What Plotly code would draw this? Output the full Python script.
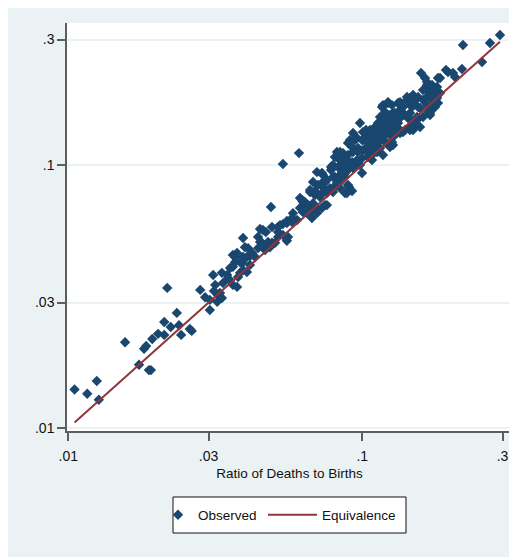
import plotly.graph_objects as go

# Ratio of deaths to births (x) and observed ratio (y)
ratio_deaths_births = [
    0.0105, 0.0116, 0.0125, 0.0127, 0.0156, 0.0174, 0.0181, 0.0184, 0.0188, 0.0191,
    0.0193, 0.0202, 0.0212, 0.0212, 0.0217, 0.0223, 0.0234, 0.0238, 0.0242, 0.0259,
    0.0263, 0.0281, 0.0292, 0.0303, 0.0311, 0.0316, 0.0321, 0.0323, 0.0333, 0.0333,
    0.0336, 0.0347, 0.0355, 0.0363, 0.0369, 0.0375, 0.0378, 0.0390, 0.0393, 0.0405,
    0.0415, 0.0303, 0.0328, 0.0355, 0.0384, 0.0363, 0.0349, 0.0313, 0.0393, 0.0399,
    0.0409, 0.0422, 0.0442, 0.0449, 0.0467, 0.0478, 0.0493, 0.0393, 0.0390, 0.0369,
    0.0363, 0.0384, 0.0405, 0.0415, 0.0432, 0.0442, 0.0456, 0.0467, 0.0485, 0.0505,
    0.0517, 0.0537, 0.0559, 0.0554, 0.0449, 0.0459, 0.0470, 0.0493, 0.0517, 0.0525,
    0.0537, 0.0554, 0.0577, 0.0517, 0.0489, 0.0537, 0.0609, 0.0375, 0.0581, 0.0600,
    0.0577, 0.0554, 0.0614, 0.0628, 0.0648, 0.0614, 0.0628, 0.0648, 0.0674, 0.0701,
    0.0747, 0.0674, 0.0701, 0.0729, 0.0758, 0.0624, 0.0638, 0.0654, 0.0680, 0.0664,
    0.0690, 0.0718, 0.0758, 0.0795, 0.0680, 0.0707, 0.0758, 0.0807, 0.0827, 0.0873,
    0.0701, 0.0729, 0.0735, 0.0789, 0.0795, 0.0820, 0.0827, 0.0840, 0.0860, 0.0894,
    0.0860, 0.0887, 0.0901, 0.0887, 0.0923, 0.0735, 0.0735, 0.0776, 0.0807, 0.0840,
    0.0894, 0.0783, 0.0827, 0.0873, 0.0807, 0.0795, 0.0840, 0.0860, 0.0887, 0.0908,
    0.0853, 0.0690, 0.0729, 0.0795, 0.0840, 0.0873, 0.0747, 0.0820, 0.0664, 0.0783,
    0.0827, 0.0860, 0.0894, 0.0930, 0.0982, 0.0998, 0.0840, 0.0853, 0.0908, 0.0908,
    0.0923, 0.0894, 0.0930, 0.0967, 0.1005, 0.1045, 0.0959, 0.0998, 0.1079, 0.1122,
    0.1149, 0.0982, 0.1005, 0.1131, 0.1167, 0.1214, 0.1262, 0.1323, 0.0930, 0.0959,
    0.0998, 0.1037, 0.1088, 0.1062, 0.1088, 0.1131, 0.1195, 0.1272, 0.1344, 0.1397,
    0.1223, 0.1323, 0.1419, 0.1167, 0.1195, 0.1262, 0.1365, 0.1397, 0.1430, 0.0945,
    0.1037, 0.1122, 0.1167, 0.1214, 0.1262, 0.1312, 0.0967, 0.1021, 0.1062, 0.1105,
    0.1214, 0.1272, 0.0840, 0.0923, 0.0959, 0.1045, 0.1079, 0.1176, 0.1242, 0.1037,
    0.1062, 0.1105, 0.1131, 0.1262, 0.1029, 0.1088, 0.1176, 0.1149, 0.1195, 0.1167,
    0.1223, 0.1272, 0.1242, 0.1292, 0.1375, 0.1419, 0.1344, 0.1272, 0.1535, 0.1511,
    0.1453, 0.1476, 0.1453, 0.1419, 0.1511, 0.1548, 0.1476, 0.1548, 0.1609, 0.1660,
    0.1674, 0.1741, 0.1674, 0.1344, 0.1375, 0.1488, 0.1548, 0.1572, 0.1488, 0.1453,
    0.1660, 0.1700, 0.1741, 0.1796, 0.1838, 0.1809, 0.1741, 0.1700, 0.1768, 0.1584,
    0.1634, 0.1660, 0.1727, 0.1768, 0.1796, 0.1727, 0.1768, 0.1809, 0.1926, 0.2035,
    0.2067, 0.2183, 0.2200, 0.2554, 0.2718, 0.2940, 0.1204, 0.1242, 0.1195, 0.1272,
    0.1323, 0.1375, 0.1453, 0.1535, 0.1609, 0.1700, 0.1453, 0.1488, 0.1223, 0.1262,
    0.1176, 0.1195, 0.1272, 0.1323, 0.1488, 0.1609, 0.1430, 0.1488, 0.1572, 0.1660,
    0.1741, 0.1796, 0.1957, 0.1838, 0.1713,
]
observed = [
    0.0140, 0.0135, 0.0151, 0.0128, 0.0212, 0.0174, 0.0200, 0.0205, 0.0166, 0.0166,
    0.0218, 0.0228, 0.0226, 0.0253, 0.0341, 0.0242, 0.0274, 0.0246, 0.0226, 0.0238,
    0.0234, 0.0335, 0.0314, 0.0281, 0.0382, 0.0350, 0.0302, 0.0320, 0.0312, 0.0389,
    0.0356, 0.0382, 0.0365, 0.0410, 0.0447, 0.0344, 0.0375, 0.0424, 0.0399, 0.0447,
    0.0417, 0.0307, 0.0326, 0.0406, 0.0389, 0.0350, 0.0371, 0.0332, 0.0528, 0.0487,
    0.0483, 0.0463, 0.0533, 0.0510, 0.0496, 0.0510, 0.0506, 0.0447, 0.0427, 0.0427,
    0.0455, 0.0427, 0.0392, 0.0451, 0.0447, 0.0483, 0.0506, 0.0475, 0.0487, 0.0506,
    0.0533, 0.0542, 0.0533, 0.0515, 0.0571, 0.0566, 0.0556, 0.0581, 0.0581, 0.0591,
    0.0596, 0.0613, 0.0629, 0.0556, 0.0692, 0.1009, 0.1110, 0.0463, 0.0656, 0.0618,
    0.0607, 0.0602, 0.0749, 0.0723, 0.0698, 0.0686, 0.0662, 0.0656, 0.0674, 0.0686,
    0.0704, 0.0629, 0.0656, 0.0686, 0.0704, 0.0736, 0.0723, 0.0704, 0.0716, 0.0789,
    0.0769, 0.0756, 0.0783, 0.0817, 0.0862, 0.0839, 0.0877, 0.0900, 0.0877, 0.0900,
    0.0940, 0.0932, 0.0862, 0.0974, 0.0900, 0.1120, 0.1062, 0.1044, 0.1000, 0.1212,
    0.1110, 0.0974, 0.0824, 0.0783, 0.0796, 0.0916, 0.0824, 0.0817, 0.0824, 0.0862,
    0.0839, 0.0957, 0.0900, 0.0932, 0.1072, 0.1000, 0.1120, 0.1072, 0.1044, 0.1000,
    0.0957, 0.0796, 0.0783, 0.0789, 0.0817, 0.0783, 0.0862, 0.0854, 0.0803, 0.0983,
    0.0983, 0.0983, 0.0957, 0.0974, 0.1000, 0.0932, 0.0893, 0.0940, 0.0803, 0.1245,
    0.1170, 0.1091, 0.1120, 0.1160, 0.1140, 0.1120, 0.1018, 0.1062, 0.1091, 0.1120,
    0.1160, 0.1444, 0.1334, 0.1444, 0.1358, 0.1394, 0.1419, 0.1444, 0.1323, 0.1267,
    0.1245, 0.1277, 0.1300, 0.1191, 0.1245, 0.1223, 0.1223, 0.1277, 0.1323, 0.1358,
    0.1720, 0.1720, 0.1813, 0.1661, 0.1549, 0.1522, 0.1661, 0.1549, 0.1522, 0.1245,
    0.1212, 0.1267, 0.1277, 0.1323, 0.1277, 0.1323, 0.1120, 0.1140, 0.1120, 0.1160,
    0.1212, 0.1191, 0.1072, 0.1026, 0.1044, 0.1072, 0.1044, 0.1091, 0.1170, 0.1323,
    0.1358, 0.1394, 0.1323, 0.1223, 0.1358, 0.1323, 0.1675, 0.1522, 0.1456, 0.1382,
    0.1382, 0.1394, 0.1549, 0.1576, 0.1576, 0.1522, 0.1508, 0.1482, 0.1482, 0.1419,
    0.1382, 0.1456, 0.1797, 0.1766, 0.1766, 0.1813, 0.1661, 0.1661, 0.1766, 0.1813,
    0.1894, 0.1661, 0.1590, 0.1735, 0.1661, 0.1720, 0.1508, 0.1394, 0.1382, 0.1358,
    0.2014, 0.1928, 0.1813, 0.1979, 0.1878, 0.1720, 0.1647, 0.1576, 0.1661, 0.2238,
    0.2141, 0.2067, 0.2014, 0.1962, 0.1845, 0.1766, 0.1735, 0.2141, 0.2297, 0.2238,
    0.2161, 0.2317, 0.2860, 0.2463, 0.2911, 0.3120, 0.1495, 0.1419, 0.1358, 0.1323,
    0.1382, 0.1334, 0.1576, 0.1522, 0.1522, 0.1549, 0.1394, 0.1358, 0.1735, 0.1690,
    0.1690, 0.1590, 0.1576, 0.1590, 0.1845, 0.1928, 0.1735, 0.1690, 0.1647, 0.1690,
    0.1894, 0.1797, 0.2257, 0.2141, 0.1845,
]

tick_vals = [0.01, 0.03, 0.1, 0.3]
tick_text = [".01", ".03", ".1", ".3"]

NAVY = "#1A476F"
MAROON = "#90353B"
BG = "#EAF2F3"
INK = "#111111"
AXIS = "#5E5E5E"

# the page body adds an 8px offset, so the figure is 8px smaller than the window
W, H = 509, 549
L, R, T, B = 59, 5, 15, 126
pw, ph = W - L - R, H - T - B


def px_x(v):
    return (v - L) / pw


def px_y(v):
    return (H - B - v) / ph


fig = go.Figure()
fig.add_trace(go.Scatter(
    x=ratio_deaths_births, y=observed, mode="markers", name="Observed",
    marker=dict(symbol="diamond", size=8, color=NAVY, line=dict(width=0)),
    legend="legend",
))
lo, hi = min(ratio_deaths_births), max(ratio_deaths_births)
fig.add_trace(go.Scatter(
    x=[lo, hi], y=[lo, hi], mode="lines", name="Equivalence",
    line=dict(color=MAROON, width=2),
    legend="legend2",
))

legend_common = dict(
    orientation="h", yanchor="middle", y=px_y(507), xanchor="left",
    bgcolor="rgba(0,0,0,0)", borderwidth=0,
    font=dict(size=13.5, color=INK),
)

fig.update_layout(
    width=W, height=H,
    margin=dict(l=L, r=R, t=T, b=B, autoexpand=False),
    paper_bgcolor=BG, plot_bgcolor="white",
    font=dict(family="Liberation Sans, Arial, sans-serif", size=14, color=INK),
    showlegend=True,
    legend=dict(x=px_x(150), itemwidth=30, **legend_common),
    legend2=dict(x=px_x(255), itemwidth=49, **legend_common),
    shapes=[
        dict(type="rect", xref="paper", yref="paper", layer="below",
             x0=px_x(165), x1=px_x(398), y0=px_y(525), y1=px_y(489),
             fillcolor="white", line=dict(color=INK, width=1)),
    ],
)
fig.update_xaxes(
    type="log", range=[-2.0044, -0.4908],
    tickvals=tick_vals, ticktext=tick_text,
    showgrid=False, zeroline=False,
    showline=True, linecolor=AXIS, linewidth=1.5,
    ticks="outside", ticklen=8, tickwidth=1.5, tickcolor=AXIS,
    ticklabelstandoff=3,
    tickfont=dict(size=14, color=INK),
    title=dict(text="Ratio of Deaths to Births", standoff=6,
               font=dict(size=13.5, color=INK)),
)
fig.update_yaxes(
    type="log", range=[-2.0114, -0.460],
    tickvals=tick_vals, ticktext=tick_text,
    showgrid=True, gridcolor=BG, gridwidth=1.5, zeroline=False,
    showline=True, linecolor=AXIS, linewidth=1.5,
    ticks="outside", ticklen=8, tickwidth=1.5, tickcolor=AXIS,
    ticklabelstandoff=0,
    tickfont=dict(size=14, color=INK),
)

fig.write_html("out.html")
